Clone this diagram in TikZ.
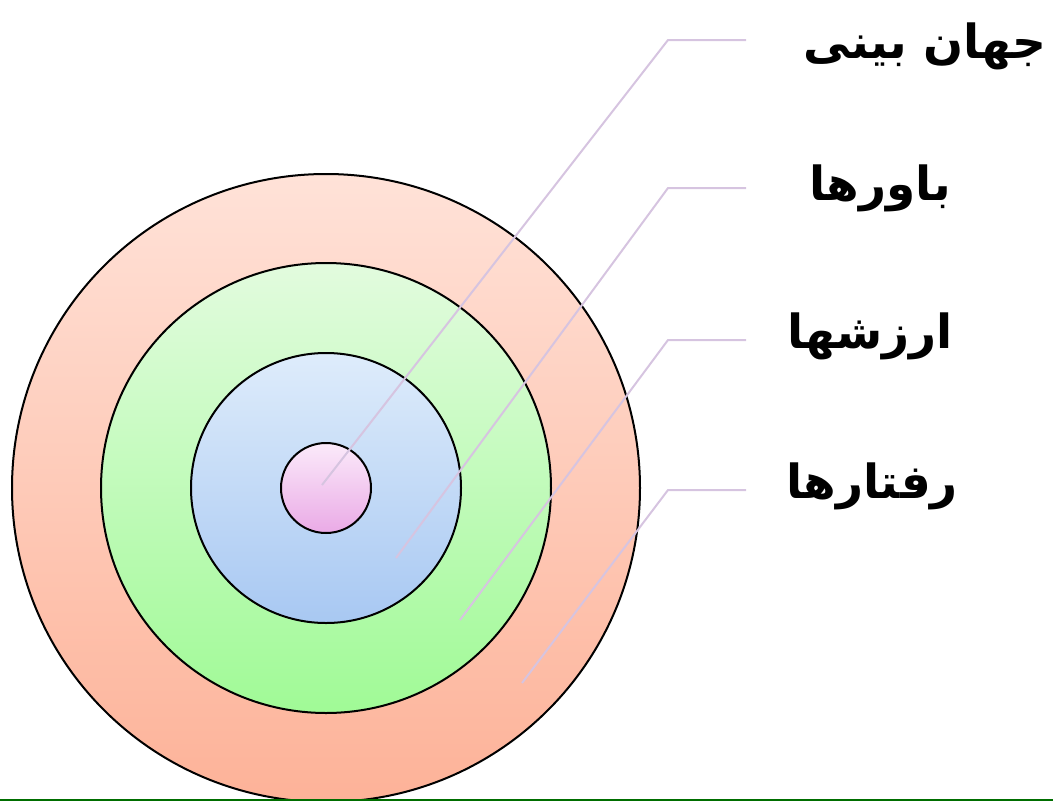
\documentclass[tikz,border=0pt]{standalone}
\usepackage{fontspec}
\newfontfamily\arabicfont[Script=Arabic]{DejaVu Sans}
\TeXXeTstate=1
\definecolor{outerT}{RGB}{255,226,216}
\definecolor{outerB}{RGB}{253,178,152}
\definecolor{greenT}{RGB}{226,251,222}
\definecolor{greenB}{RGB}{160,250,150}
\definecolor{blueT}{RGB}{222,236,251}
\definecolor{blueB}{RGB}{168,200,242}
\definecolor{pinkT}{RGB}{251,234,250}
\definecolor{pinkB}{RGB}{234,170,230}
\definecolor{leader}{RGB}{214,196,224}
\definecolor{baseline}{RGB}{0,110,0}
\tikzset{
  ring/.style={draw=black, line width=2pt},
  leaderline/.style={draw=leader, line width=2pt},
  label/.style={font=\arabicfont\bfseries\fontsize{47}{52}\selectfont, inner sep=0pt, anchor=center},
}
\begin{document}
\begin{tikzpicture}[x=1pt,y=-1pt]
\useasboundingbox (0,0) rectangle (1053,801);
\coordinate (c) at (326,488);
\begin{scope}
\clip (0,0) rectangle (1053,799);
\shade[top color=outerT, bottom color=outerB] (c) circle (314);
\draw[ring] (c) circle (314);
\end{scope}
\shade[top color=greenT, bottom color=greenB] (c) circle (225);
\draw[ring] (c) circle (225);
\shade[top color=blueT, bottom color=blueB] (c) circle (135);
\draw[ring] (c) circle (135);
\shade[top color=pinkT, bottom color=pinkB] (c) circle (45);
\draw[ring] (c) circle (45);
\draw[draw=baseline, line width=2pt] (0,799.5) -- (1053,799.5);
% leader coordinates
\coordinate (s1) at (322,485); \coordinate (k1) at (668,40); \coordinate (e1) at (746,40);
\coordinate (s2) at (396,558); \coordinate (k2) at (668,188); \coordinate (e2) at (746,188);
\coordinate (s3) at (460,620); \coordinate (k3) at (668,340); \coordinate (e3) at (746,340);
\coordinate (s4) at (522,683); \coordinate (k4) at (668,490); \coordinate (e4) at (746,490);
\draw[leaderline] (s1) -- (k1) -- (e1);
\draw[leaderline] (s2) -- (k2) -- (e2);
\draw[leaderline] (s3) -- (k3) -- (e3);
\draw[leaderline] (s4) -- (k4) -- (e4);
\node[label] (t1) at (925,46) {\beginR جهان بینی\endR};
\node[label] (t2) at (880,188) {\beginR باورها\endR};
\node[label] (t3) at (870,336) {\beginR ارزشها\endR};
\node[label] (t4) at (872,486) {\beginR رفتارها\endR};
\end{tikzpicture}
\end{document}
